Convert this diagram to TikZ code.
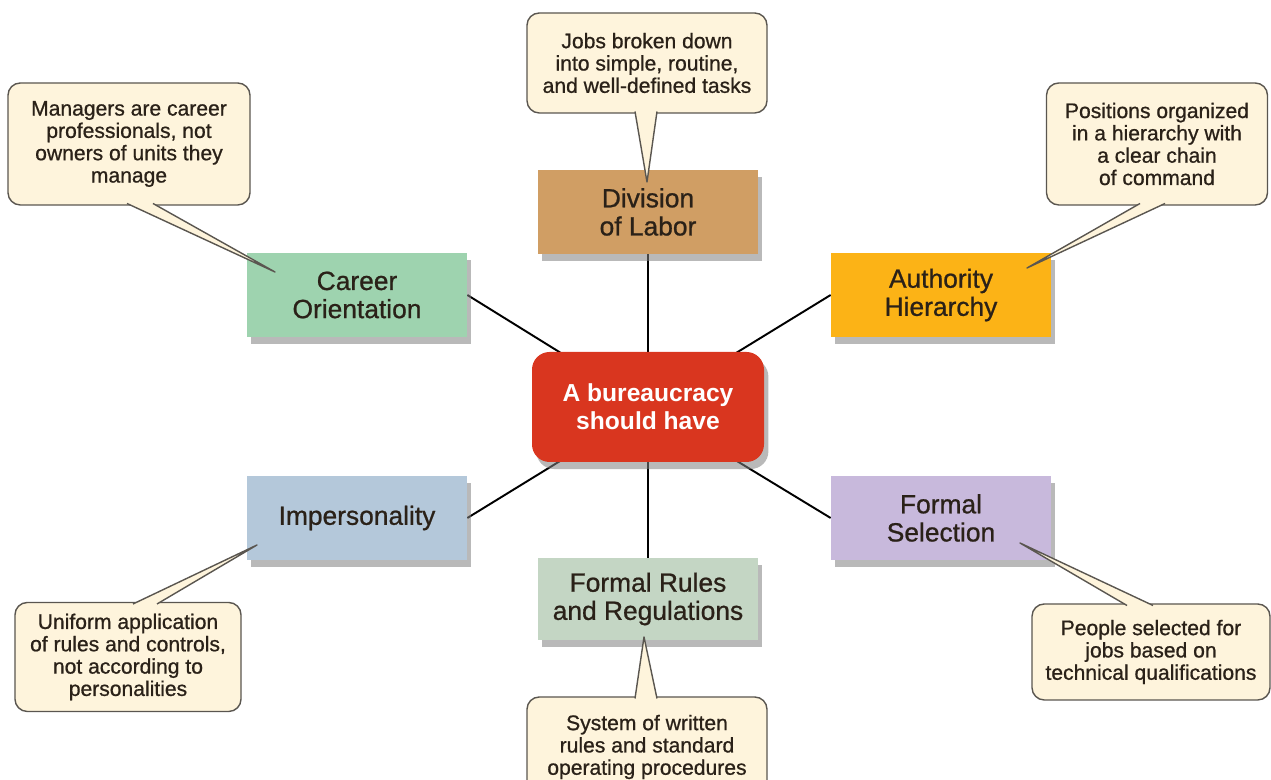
\documentclass[tikz,border=0pt]{standalone}
\usepackage{fontspec}
\setmainfont{Liberation Sans}
\newfontfamily\thickfont[FakeBold=0.8]{Liberation Sans}
\usetikzlibrary{shadows, backgrounds}
\definecolor{labortan}{HTML}{D09E64}
\definecolor{careergreen}{HTML}{9ED3AF}
\definecolor{authgold}{HTML}{FCB316}
\definecolor{bureaured}{HTML}{D9361F}
\definecolor{imperblue}{HTML}{B4C8DA}
\definecolor{selectlilac}{HTML}{C8B9DC}
\definecolor{rulesage}{HTML}{C4D6C4}
\definecolor{notecream}{HTML}{FEF4DC}
\definecolor{noteline}{HTML}{5A5650}
\definecolor{inkdark}{HTML}{2A2118}

\begin{document}
\begin{tikzpicture}[
  topic/.style={minimum width=4.4cm, minimum height=1.68cm, align=center, text=inkdark,
    font=\thickfont\fontsize{15}{16}\selectfont,
    drop shadow={shadow xshift=2.5pt, shadow yshift=-4pt, opacity=0.55}},
  hub/.style={fill=bureaured, rounded corners=10pt, minimum width=4.64cm, minimum height=2.2cm,
    align=center, text=white, font=\fontsize{14}{16}\selectfont\bfseries,
    drop shadow={shadow xshift=2.5pt, shadow yshift=-4pt, opacity=0.55}},
  note/.style={fill=notecream, draw=noteline, line width=0.8pt, rounded corners=7pt,
    align=center, text=inkdark, font=\thickfont\fontsize{12}{12.7}\selectfont},
  spoke/.style={black, line width=1.1pt},
  tailfill/.style={fill=notecream},
  tailline/.style={draw=noteline, line width=0.8pt, line join=round}
]

\useasboundingbox (0,0) rectangle (25.42,15.6);

% Centre
\node[hub] (ctr) at (12.96,7.46) {A bureaucracy\\should have};

% Six characteristics
\node[topic, fill=labortan] (div) at (12.96,11.36) {Division\\of Labor};
\node[topic, fill=careergreen] (car) at (7.14,9.70) {Career\\Orientation};
\node[topic, fill=authgold] (aut) at (18.82,9.70) {Authority\\Hierarchy};
\node[topic, fill=imperblue] (imp) at (7.14,5.24) {Impersonality};
\node[topic, fill=selectlilac] (sel) at (18.82,5.24) {Formal\\Selection};
\node[topic, fill=rulesage, minimum height=1.64cm] (rul) at (12.96,3.62) {Formal Rules\\and Regulations};

% Spokes
\begin{scope}[on background layer]
\draw[spoke] (ctr.center) -- (div.south);
\draw[spoke] (ctr.center) -- (car.east);
\draw[spoke] (ctr.center) -- (aut.west);
\draw[spoke] (ctr.center) -- (imp.east);
\draw[spoke] (ctr.center) -- (sel.west);
\draw[spoke] (ctr.center) -- (rul.north);
\end{scope}

% Callouts
\node[note, minimum width=4.8cm, minimum height=2.0cm] (ndiv) at (12.94,14.34)
  {Jobs broken down\\into simple, routine,\\and well-defined tasks};
\node[note, minimum width=4.84cm, minimum height=2.44cm] (ncar) at (2.58,12.72)
  {Managers are career\\professionals, not\\owners of units they\\manage};
\node[note, minimum width=4.42cm, minimum height=2.44cm] (naut) at (23.14,12.72)
  {Positions organized\\in a hierarchy with\\a clear chain\\of command};
\node[note, minimum width=4.52cm, minimum height=2.18cm] (nimp) at (2.56,2.46)
  {Uniform application\\of rules and controls,\\not according to\\personalities};
\node[note, minimum width=4.76cm, minimum height=1.92cm, inner xsep=1pt] (nsel) at (23.02,2.56)
  {People selected for\\jobs based on\\technical qualifications};
\node[note, minimum width=4.8cm, minimum height=2.0cm] (nrul) at (12.94,0.66)
  {System of written\\rules and standard\\operating procedures};

% Tails
\coordinate (tdiv) at (12.94,11.96);
\coordinate (tcar) at (5.50,10.16);
\coordinate (taut) at (20.54,10.24);
\coordinate (timp) at (5.14,4.70);
\coordinate (tsel) at (20.40,4.74);
\coordinate (trul) at (12.88,2.86);

\fill[tailfill] (12.70,13.37) -- (tdiv) -- (13.14,13.37) -- cycle;
\draw[tailline] (12.70,13.37) -- (tdiv) -- (13.14,13.37);
\fill[tailfill] (2.54,11.53) -- (tcar) -- (3.06,11.53) -- cycle;
\draw[tailline] (2.54,11.53) -- (tcar) -- (3.06,11.53);
\fill[tailfill] (22.80,11.53) -- (taut) -- (23.30,11.53) -- cycle;
\draw[tailline] (22.80,11.53) -- (taut) -- (23.30,11.53);
\fill[tailfill] (2.66,3.52) -- (timp) -- (3.14,3.52) -- cycle;
\draw[tailline] (2.66,3.52) -- (timp) -- (3.14,3.52);
\fill[tailfill] (22.54,3.49) -- (tsel) -- (23.06,3.49) -- cycle;
\draw[tailline] (22.54,3.49) -- (tsel) -- (23.06,3.49);
\fill[tailfill] (12.70,1.63) -- (trul) -- (13.14,1.63) -- cycle;
\draw[tailline] (12.70,1.63) -- (trul) -- (13.14,1.63);

\end{tikzpicture}
\end{document}
